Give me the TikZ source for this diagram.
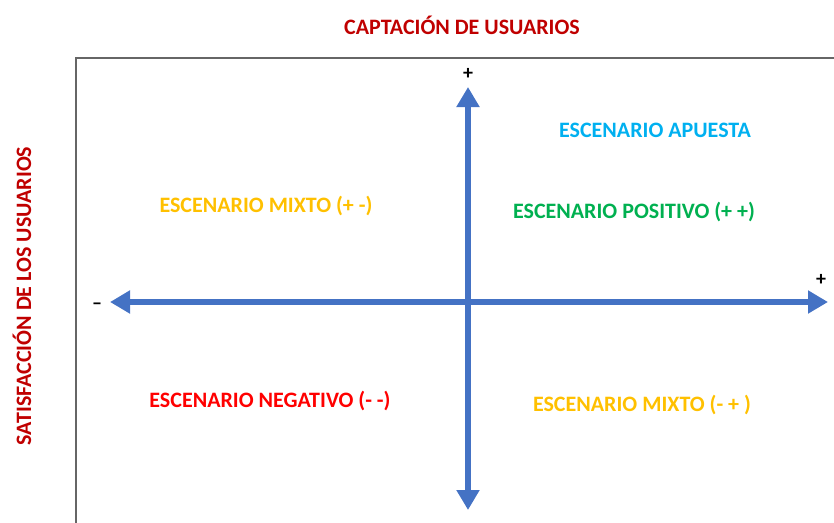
\documentclass[tikz,border=0pt]{standalone}
\usepackage{fontspec}
\setmainfont{Carlito}
\usetikzlibrary{arrows.meta}
\definecolor{axisblue}{HTML}{4472C4}
\definecolor{titlered}{HTML}{C00000}
\definecolor{apuesta}{HTML}{00B0F0}
\definecolor{mixto}{HTML}{FFC000}
\definecolor{positivo}{HTML}{00B050}
\definecolor{negativo}{HTML}{FF0000}
\begin{document}
\begin{tikzpicture}[x=1pt, y=-1pt,
        scen/.style={font=\bfseries\fontsize{22}{26}\selectfont, inner sep=0pt},
        sign/.style={font=\bfseries\fontsize{20}{24}\selectfont, inner sep=0pt},
        axis/.style={draw=axisblue, line width=6pt, {Triangle[width=22pt,length=20pt]}-{Triangle[width=22pt,length=20pt]}}
    ]
        \useasboundingbox (0,0) rectangle (834,522);
        \draw[gray!80!black, line width=2pt] (76,58) rectangle (850,540);

        \coordinate (top) at (468,87);
        \coordinate (bottom) at (468,510);
        \coordinate (left) at (110,302);
        \coordinate (right) at (828,302);
        \draw[axis] (bottom) -- (top);
        \draw[axis] (left) -- (right);

        \node[sign] (plustop) at (468,74) {+};
        \node[sign] (plusright) at (821,280) {+};
        \node[sign] (minus) at (97,306) {–};

        \node[scen, text=titlered] (captacion) at (462,25) {CAPTACIÓN DE USUARIOS};
        \node[scen, text=titlered, rotate=90] (satisfaccion) at (22,296) {SATISFACCIÓN DE LOS USUARIOS};
        \node[scen, text=apuesta] (apuesta) at (655,130) {ESCENARIO APUESTA};
        \node[scen, text=mixto] (mixtoa) at (266,206) {ESCENARIO MIXTO (+ -)};
        \node[scen, text=positivo] (positivo) at (634,212) {ESCENARIO POSITIVO (+ +)};
        \node[scen, text=negativo] (negativo) at (270,401) {ESCENARIO NEGATIVO (- -)};
        \node[scen, text=mixto] (mixtob) at (642,405) {ESCENARIO MIXTO (- + )};
    \end{tikzpicture}
\end{document}
